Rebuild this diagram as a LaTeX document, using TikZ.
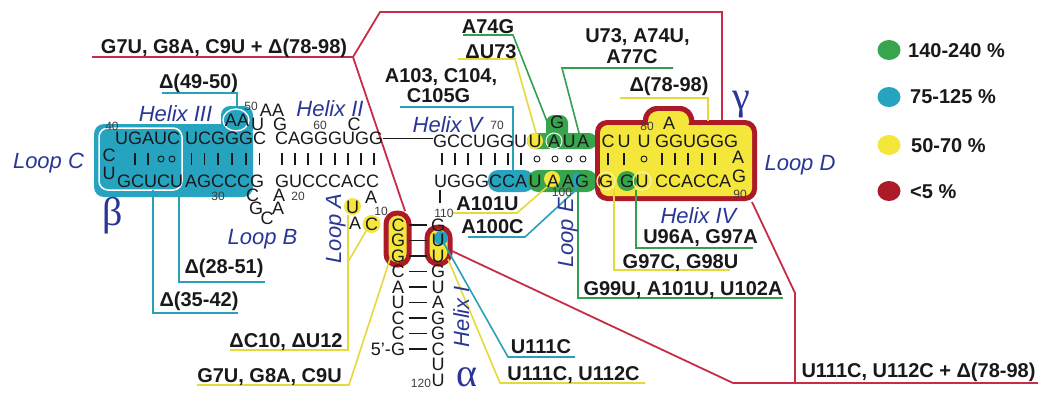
\documentclass[tikz,border=0pt]{standalone}
\usepackage{fontspec}
\setmainfont{Liberation Sans}
\newfontfamily\greekfont{Liberation Serif}
\definecolor{txt}{RGB}{25,25,28}
\definecolor{numc}{RGB}{60,60,60}
\definecolor{bluet}{RGB}{40,55,150}
\definecolor{redC}{RGB}{172,26,40}
\definecolor{redL}{RGB}{200,45,70}
\definecolor{yelC}{RGB}{245,230,60}
\definecolor{yelL}{RGB}{228,218,60}
\definecolor{yring}{RGB}{250,245,160}
\definecolor{cyaC}{RGB}{38,163,190}
\definecolor{cyaL}{RGB}{40,160,185}
\definecolor{greC}{RGB}{55,165,75}
\definecolor{greL}{RGB}{50,160,80}
\begin{document}
\begin{tikzpicture}[x=1pt,y=-1pt,
  seq/.style={font=\fontsize{18}{18}\selectfont, inner sep=0pt, text=txt},
  sw/.style={seq, anchor=west},
  num/.style={font=\fontsize{12}{12}\selectfont, inner sep=0pt, text=numc},
  lab/.style={font=\bfseries\fontsize{20}{22}\selectfont, inner sep=0pt, text=txt, anchor=base},
  reg/.style={font=\itshape\fontsize{22}{22}\selectfont, inner sep=0pt, text=bluet, anchor=base},
  grk/.style={font=\greekfont\fontsize{40}{40}\selectfont, inner sep=0pt, text=bluet},
  bp/.style={line width=1.1pt, draw=txt},
  wob/.style={line width=0.9pt, draw=txt},
  lc/.style={line width=1.6pt, draw=cyaL},
  lg/.style={line width=1.6pt, draw=greL},
  ly/.style={line width=1.6pt, draw=yelL},
  lr/.style={line width=1.8pt, draw=redL},
  rbox/.style={draw=redC, line width=5pt, fill=yelC, rounded corners=11pt},
]
\fill[white] (0,0) rectangle (1041,394);
\useasboundingbox (0,0) rectangle (1041,394);

% ---------------- highlights
\fill[cyaC, rounded corners=10pt] (94,124) rectangle (253,197);
\fill[cyaC, rounded corners=9pt] (221,106) rectangle (253,138);
\draw[white, line width=1.5pt, rounded corners=9pt] (99,128) rectangle (182,190);
\draw[white, line width=1.3pt] (236,120) ellipse [x radius=13pt, y radius=11pt];

\fill[yelC] (352.5,206.5) circle (8.5pt);
\fill[yelC] (371.5,224) circle (9pt);
\draw[rbox] (386,213) rectangle (409,265);
\draw[rbox] (427,227) rectangle (450,264);
\fill[cyaC] (441,238) circle (7pt);

\fill[cyaC, rounded corners=10pt] (488,170) rectangle (534,192);
\fill[greC, rounded corners=8pt] (527,133) rectangle (597,149);
\fill[greC, rounded corners=8pt] (546,115) rectangle (568,140);
\fill[greC, rounded corners=10pt] (528,170) rectangle (597,192);
\fill[yelC] (535,141) circle (8pt);
\draw[white, line width=1pt] (554,141) circle (8pt);
\fill[yelC] (552,179) circle (8pt);
\fill[cyaC] (576,180) ellipse [x radius=3.5pt, y radius=8pt];

\fill[redC, rounded corners=12pt] (595,120) rectangle (757,201);
\fill[redC, rounded corners=14pt] (643,106) rectangle (694,132);
\fill[yelC, rounded corners=8pt] (600,125) rectangle (752,196);
\fill[yelC, rounded corners=10pt] (648,111) rectangle (689,132);
\fill[greC] (627,181) circle (10pt);
\draw[yring, line width=1.2pt] (606,181) circle (9pt);
\draw[yring, line width=1.2pt] (642,181) circle (9pt);

% legend marks
\fill[greC] (889,50) ellipse [x radius=11.5pt, y radius=10pt];
\fill[cyaC] (889,97) ellipse [x radius=11.5pt, y radius=10pt];
\fill[yelC] (889,145) ellipse [x radius=11.5pt, y radius=10pt];
\fill[redC] (889,191) ellipse [x radius=11.5pt, y radius=10pt];

% ---------------- connector coordinates
\coordinate (r1) at (92,57);
\coordinate (r2) at (353,57);
\coordinate (r3) at (380,12);
\coordinate (r4) at (722,12);
\coordinate (gtop) at (722,120);
\coordinate (cggtop) at (405,211);
\coordinate (r5) at (1038,383);
\coordinate (r6) at (733,383);
\coordinate (r7) at (795,383);
\coordinate (r8) at (795,293);
\coordinate (gcorner) at (752,202);
\coordinate (uuside) at (452,251);

\coordinate (c1a) at (162,93);  \coordinate (c1b) at (237,93);  \coordinate (aatarget) at (237,108);
\coordinate (c2a) at (179,197); \coordinate (c2b) at (179,282); \coordinate (c2c) at (265,282);
\coordinate (c3a) at (153,190); \coordinate (c3b) at (153,313); \coordinate (c3c) at (238,313);
\coordinate (y4a) at (348,215); \coordinate (y4b) at (348,350); \coordinate (y4c) at (230,350);
\coordinate (y4d) at (366,231); \coordinate (y4e) at (348,262);
\coordinate (y5a) at (197,385); \coordinate (y5b) at (349,385); \coordinate (y5c) at (391,256);
\coordinate (g6a) at (463,35);  \coordinate (g6b) at (513,35);  \coordinate (g6c) at (548,124);
\coordinate (y7a) at (458,59);  \coordinate (y7b) at (515,59);  \coordinate (y7c) at (536,133);
\coordinate (g8a) at (673,68);  \coordinate (g8b) at (562,68);  \coordinate (g8c) at (579,133);
\coordinate (y9a) at (620,98);  \coordinate (y9b) at (708,98);  \coordinate (y9c) at (708,121);
\coordinate (c10a) at (400,107); \coordinate (c10b) at (513,107); \coordinate (c10c) at (513,170);
\coordinate (y11a) at (453,213); \coordinate (y11b) at (517,213); \coordinate (y11c) at (548,186);
\coordinate (c12a) at (468,237); \coordinate (c12b) at (525,237); \coordinate (c12c) at (577,189);
\coordinate (g13a) at (636,190); \coordinate (g13b) at (636,248); \coordinate (g13c) at (753,248);
\coordinate (y14a) at (614,189); \coordinate (y14b) at (614,270); \coordinate (y14c) at (730,270);
\coordinate (g15a) at (578,192); \coordinate (g15b) at (578,298); \coordinate (g15c) at (783,298);
\coordinate (c16a) at (575,357); \coordinate (c16b) at (508,357); \coordinate (c16c) at (442,240);
\coordinate (y17a) at (645,383); \coordinate (y17b) at (500,383); \coordinate (y17c) at (448,259);

% ---------------- connectors
\draw[lr] (r1) -- (r2) -- (r3) -- (r4) -- (gtop);
\draw[lr] (r2) -- (cggtop);
\draw[lr] (r6) -- (r5);
\draw[lr] (r7) -- (r8) -- (gcorner);
\draw[lr] (r6) -- (uuside);

\draw[lc] (c1a) -- (c1b) -- (aatarget);
\draw[lc] (c2a) -- (c2b) -- (c2c);
\draw[lc] (c3a) -- (c3b) -- (c3c);
\draw[ly] (y4a) -- (y4b) -- (y4c);
\draw[ly] (y4d) -- (y4e);
\draw[ly] (y5a) -- (y5b) -- (y5c);
\draw[lg] (g6a) -- (g6b) -- (g6c);
\draw[ly] (y7a) -- (y7b) -- (y7c);
\draw[lg] (g8a) -- (g8b) -- (g8c);
\draw[ly] (y9a) -- (y9b) -- (y9c);
\draw[lc] (c10a) -- (c10b) -- (c10c);
\draw[ly] (y11a) -- (y11b) -- (y11c);
\draw[lc] (c12a) -- (c12b) -- (c12c);
\draw[lg] (g13a) -- (g13b) -- (g13c);
\draw[ly] (y14a) -- (y14b) -- (y14c);
\draw[lg] (g15a) -- (g15b) -- (g15c);
\draw[lc] (c16a) -- (c16b) -- (c16c);
\draw[ly] (y17a) -- (y17b) -- (y17c);

% ---------------- sequence: helices III and II
\node[sw] (t3a) at (115,138.5) {UGAUC};
\node[sw] (t3b) at (185,138.5) {UCGGGC};
\node[sw] (t2) at (275,138.5) {CAGGGUGG};
\node[sw] (b3a) at (117,181) {GCUCU};
\node[sw] (b3b) at (185,181) {AGCCCG};
\node[sw] (b2) at (275,181) {GUCCCACC};
\node[seq] (lc1) at (109,155) {C};
\node[seq] (lc2) at (109,173) {U};
\node[seq] (aa) at (237,120) {AA};
\node[seq] (bu1) at (257.5,124.5) {U};
\node[seq] (bu2) at (272,110.5) {AA};
\node[seq] (bu3) at (280,124.5) {G};
\node[seq] (bc) at (354,124) {C};
\node[seq] (lb1) at (252.5,195) {C};
\node[seq] (lb2) at (256,208.5) {G};
\node[seq] (lb3) at (267,218) {C};
\node[seq] (lb4) at (278,208.5) {A};
\node[seq] (lb5) at (279,195) {A};
\node[seq] (la1) at (371,197) {A};
\node[seq] (la2) at (352.5,207) {U};
\node[seq] (la3) at (355,223) {A};
\node[seq] (la4) at (371.5,224) {C};
\foreach \x in {135,148,191.5,204.5,218,232,246,259.5,282,295,308,321,335,348,361,374}
  \draw[bp] (\x,153) -- (\x,165);
\draw[wob] (161,159) circle (3pt);
\draw[wob] (172,159) circle (3pt);

% helix V and loop E
\node[sw] (t5) at (433,141) {GCCUGGU};
\node[sw] (b5) at (434,181) {UGGGCCA};
\draw[line width=1.6pt, txt] (t2.east) -- (t2.east -| t5.west);
\node[seq] (e1) at (535,141) {U};
\node[seq] (e2) at (554,141) {A};
\node[seq] (e3) at (569,141) {U};
\node[seq] (e4) at (583,141) {A};
\node[seq] (e5) at (557,122) {G};
\node[seq] (e6) at (535,181) {U};
\node[seq] (e7) at (553,181) {A};
\node[seq] (e8) at (568,181) {A};
\node[seq] (e9) at (582,181) {G};
\foreach \x in {442,455,468,481,495,508,521}
  \draw[bp] (\x,153) -- (\x,165);
\foreach \x in {537,555,569,583}
  \draw[wob] (\x,159) circle (3pt);

% helix IV and loop D
\node[seq] (d1) at (608,141) {C};
\node[seq] (d2) at (624,141) {U};
\node[seq] (d3) at (644,141) {U};
\node[sw] (d4) at (655,141) {GGUGGG};
\node[seq] (d5) at (669,123) {A};
\node[seq] (d6) at (606,181) {G};
\node[seq] (d7) at (627,181) {G};
\node[seq] (d8) at (642,181) {U};
\node[sw] (d9) at (655,181) {CCACCA};
\node[seq] (d10) at (738,157) {A};
\node[seq] (d11) at (739,176) {G};
\foreach \x in {608,624,662,675,688,702,715}
  \draw[bp] (\x,153) -- (\x,165);
\draw[wob] (644,159) circle (3pt);

% helix I
\foreach \l/\yy [count=\i] in {C/225,G/240.5,G/256,C/271.5,A/287,U/302.5,C/318,C/333.5,G/349}
  \node[seq] (hl\i) at (398,\yy) {\l};
\foreach \l/\yy [count=\i] in {G/225,U/240.5,U/256,G/271.5,U/287,A/302.5,G/318,G/333.5,C/349,U/364.5,U/380}
  \node[seq] (hr\i) at (438,\yy) {\l};
\foreach \yy in {225,240.5,256,271.5,287,302.5,318,333.5,349}
  \draw[bp] (409,\yy) -- (427,\yy);
\draw[bp] (440,190) -- (440,203);
\node[seq, anchor=east] (five) at (391,349) {5'-};

% numbers
\node[num] (n40) at (112,126) {40};
\node[num] (n30) at (218,196) {30};
\node[num] (n50) at (251,106) {50};
\node[num] (n60) at (320,125) {60};
\node[num] (n20) at (298,196) {20};
\node[num] (n10) at (381,211) {10};
\node[num] (n70) at (497,125) {70};
\node[num] (n80) at (647,126) {80};
\node[num] (n90) at (740,194) {90};
\node[num] (n100) at (562,192.5) {100};
\node[num] (n110) at (444,213) {110};
\node[num] (n120) at (421,383) {120};

% region labels
\node[reg] (rLC) at (48.5,168) {Loop C};
\node[reg] (rH3) at (175.5,121) {Helix III};
\node[reg] (rH2) at (330,116) {Helix II};
\node[reg] (rH5) at (447.5,132) {Helix V};
\node[reg] (rLD) at (800,170) {Loop D};
\node[reg] (rH4) at (698.5,223) {Helix IV};
\node[reg] (rLB) at (262.5,244) {Loop B};
\node[reg, rotate=90] (rLA) at (341,228.5) {Loop A};
\node[reg, rotate=90] (rLE) at (573,233) {Loop E};
\node[reg, rotate=90] (rH1) at (469,316.5) {Helix I};
\node[grk] (gb) at (113,216) {β};
\node[grk] (ga) at (467,377) {α};
\node[grk] (gg) at (741,105) {γ};

% mutation labels
\node[lab] (m1) at (224,53) {G7U, G8A, C9U + Δ(78-98)};
\node[lab] (m2) at (198.5,88) {Δ(49-50)};
\node[lab] (m3) at (488,33) {A74G};
\node[lab] (m4) at (491,58) {ΔU73};
\node[lab] (m5a) at (441,82) {A103, C104,};
\node[lab] (m5b) at (438.5,102) {C105G};
\node[lab] (m6a) at (637.5,42) {U73, A74U,};
\node[lab] (m6b) at (632,63) {A77C};
\node[lab] (m7) at (669,91) {Δ(78-98)};
\node[lab] (m8) at (487.5,210) {A101U};
\node[lab] (m9) at (492.5,233) {A100C};
\node[lab] (m10) at (700.5,243) {U96A, G97A};
\node[lab] (m11) at (680.5,268) {G97C, G98U};
\node[lab] (m12) at (683,295) {G99U, A101U, U102A};
\node[lab] (m13) at (541,353) {U111C};
\node[lab] (m14) at (573.5,380) {U111C, U112C};
\node[lab] (m15) at (918.5,377) {U111C, U112C + Δ(78-98)};
\node[lab] (m16) at (224,273) {Δ(28-51)};
\node[lab] (m17) at (199,306) {Δ(35-42)};
\node[lab] (m18) at (286,347) {ΔC10, ΔU12};
\node[lab] (m19) at (269.5,382) {G7U, G8A, C9U};

% legend
\node[lab, anchor=base west] (k1) at (908,57) {140-240 \%};
\node[lab, anchor=base west] (k2) at (910,103) {75-125 \%};
\node[lab, anchor=base west] (k3) at (911,152) {50-70 \%};
\node[lab, anchor=base west] (k4) at (910,198) {<5 \%};
\end{tikzpicture}
\end{document}
